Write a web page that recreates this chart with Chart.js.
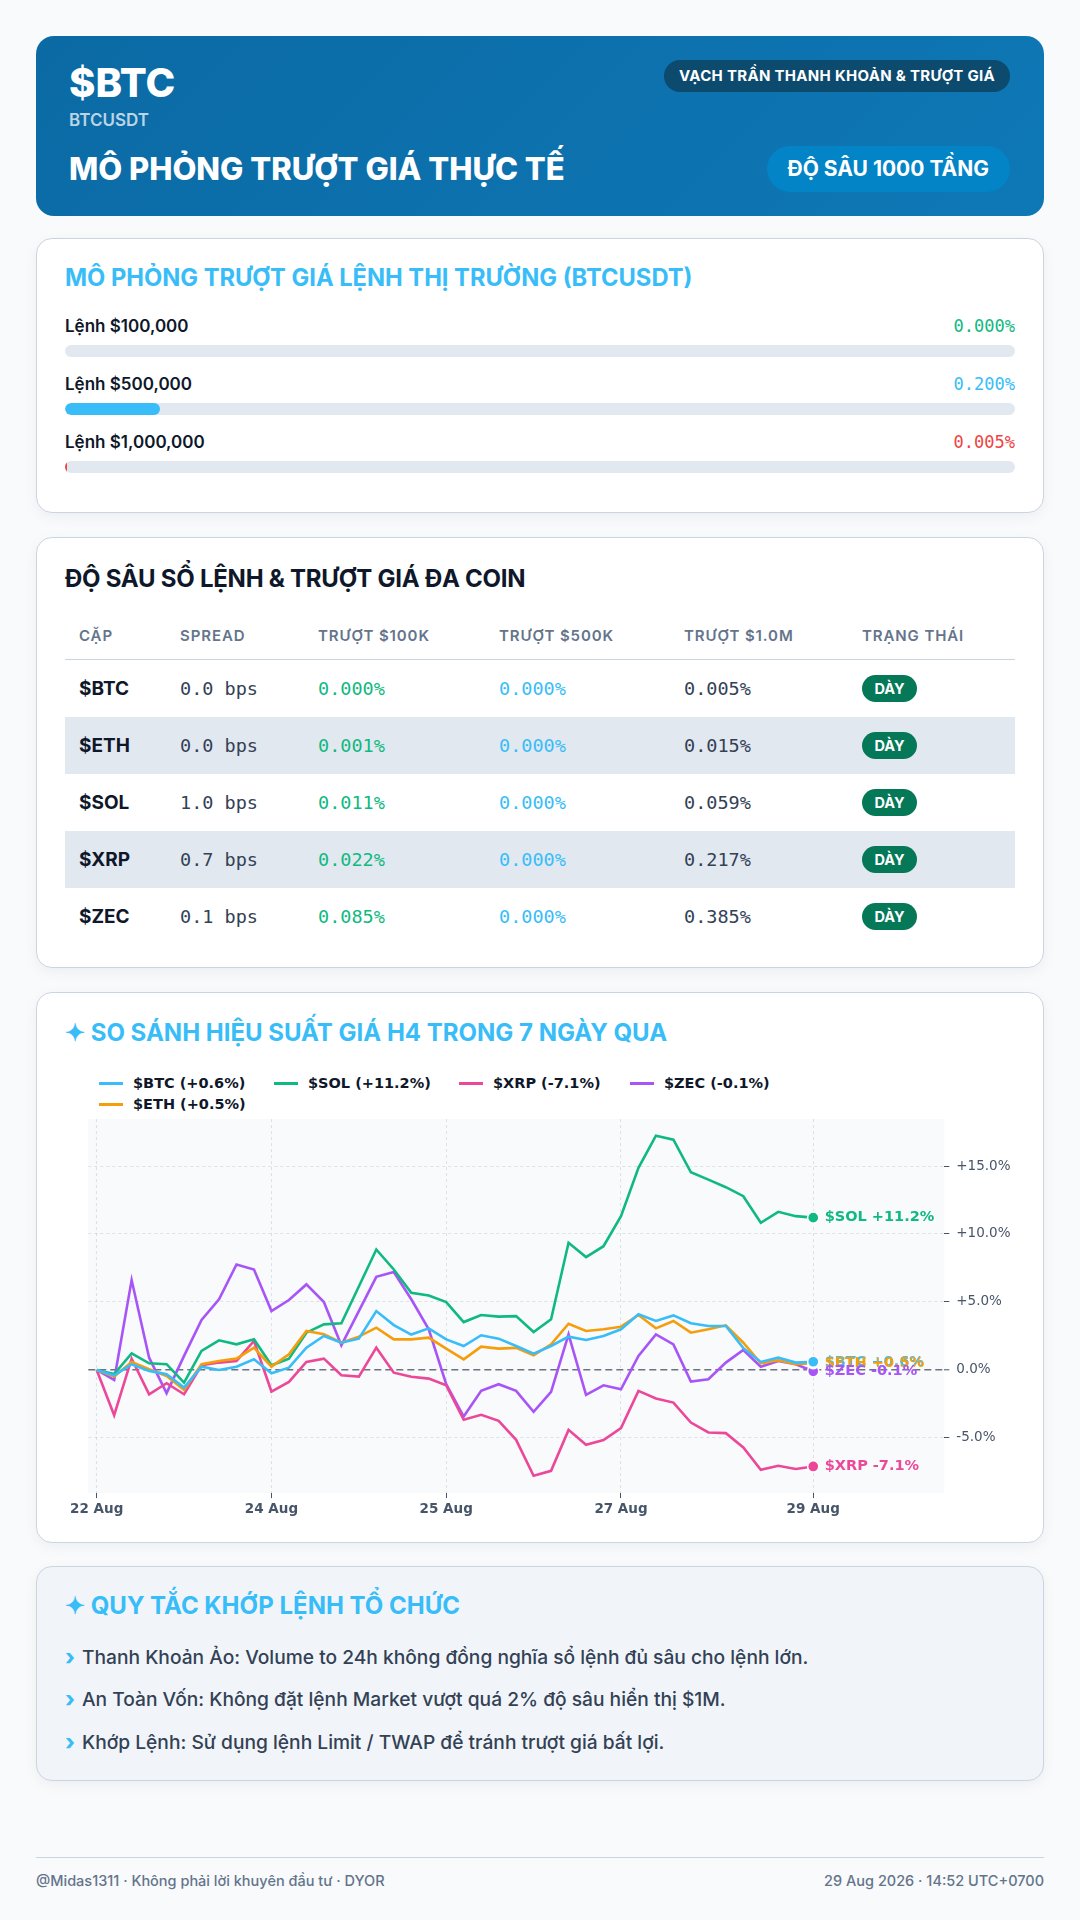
<!DOCTYPE html>
<html lang="vi">
<head>
<meta charset="utf-8">
<script src="https://cdn.jsdelivr.net/npm/chart.js@4.4.1/dist/chart.umd.min.js"></script>
<style>
  * { box-sizing: border-box; margin: 0; padding: 0; }
  html, body { width: 1080px; height: 1920px; overflow: hidden; background: #f8fafc; font-family: Inter, "Noto Sans", sans-serif; color: #0f172a; }
  .mono { font-family: "DejaVu Sans Mono", monospace; }

  .header { position: absolute; left: 36px; top: 36px; width: 1008px; height: 180px; border-radius: 18px;
            background: linear-gradient(135deg, #0b6aa4 0%, #0e78b6 100%); color: #fff; }
  .header .sym { position: absolute; left: 33px; top: 27px; font-size: 40px; line-height: 40px; font-weight: 800; }
  .header .pair { position: absolute; left: 33px; top: 76px; font-size: 17px; line-height: 17px; font-weight: 600; color: rgba(255,255,255,0.72); }
  .header .ttl { position: absolute; left: 33px; top: 117px; font-size: 31px; line-height: 31px; font-weight: 800; }
  .header .tag { position: absolute; right: 34px; top: 24px; height: 32px; line-height: 32px; padding: 0 15px; border-radius: 16px;
                 background: #0c4a6e; font-size: 15px; font-weight: 700; letter-spacing: 0.3px; }
  .header .depth { position: absolute; right: 34px; top: 110px; height: 46px; line-height: 46px; padding: 0 21px; border-radius: 23px;
                   background: #0284c7; font-size: 21px; font-weight: 700; }

  .card { position: absolute; left: 36px; width: 1008px; background: #fff; border: 1px solid #cbd5e1; border-radius: 16px;
          box-shadow: 0 4px 14px rgba(15,23,42,0.05); }
  .card h2 { font-size: 24px; line-height: 28.8px; font-weight: 700; color: #38bdf8; }

  #sim { top: 238px; height: 275px; padding: 25px 28px 0 28px; }
  #sim h2 { font-size: 23.7px; }
  #simRows { margin-top: 23px; }
  .simRow { margin-bottom: 17px; }
  .simHead { display: flex; justify-content: space-between; height: 20px; line-height: 20px; font-size: 17px; font-weight: 600; }
  .simHead .mono { font-size: 17px; font-weight: 400; }
  .track { margin-top: 9px; height: 12px; border-radius: 6px; background: #e2e8f0; overflow: hidden; }
  .fill { height: 12px; border-radius: 6px; }

  #book { top: 537px; height: 431px; padding: 25px 28px 0 28px; }
  #book h2 { font-size: 24px; line-height: 31.2px; color: #0f172a; letter-spacing: -0.25px; }
  table { margin-top: 18px; width: 950px; border-collapse: collapse; table-layout: fixed; }
  th { text-align: left; padding: 14px 14px; font-size: 15px; line-height: 19px; font-weight: 600; color: #64748b; letter-spacing: 0.9px;
       border-bottom: 1px solid #cbd5e1; white-space: nowrap; }
  td { height: 57px; padding: 0 14px; vertical-align: middle; white-space: nowrap; }
  tr.alt td { background: #e2e8f0; }
  td.coin { font-size: 19px; font-weight: 700; color: #0f172a; }
  td.mono { font-size: 18.5px; }
  .badge { display: inline-block; height: 27px; line-height: 27px; padding: 0 12.5px; border-radius: 14px; background: #047857;
           color: #fff; font-size: 14.5px; font-weight: 700; }

  #perf { top: 992px; height: 551px; }
  #perf h2 { position: absolute; left: 28px; top: 26px; font-size: 24px; }
  #legend { position: absolute; left: 62px; top: 80px; display: grid; grid-template-columns: 175px 185px 171px 200px;
            grid-template-rows: 21px 21px; font-family: "DejaVu Sans"; font-weight: bold; font-size: 14.5px; color: #0f172a; }
  .lg { display: flex; align-items: center; line-height: 21px; white-space: nowrap; }
  .lg i { display: inline-block; width: 24px; height: 3px; margin-right: 10px; }
  #perfChart { position: absolute; left: 0; top: 119px; }

  #rules { top: 1566px; height: 215px; background: #f1f5f9; padding: 25px 28px 0 28px; }
  #rules ul { list-style: none; margin-top: 14px; }
  #rules li { height: 42.5px; line-height: 42.5px; font-size: 19.2px; font-weight: 500; color: #334155; white-space: nowrap; }
  #rules li b { display: inline-block; width: 17px; color: #38bdf8; font-size: 22px; font-weight: 800; position: relative; top: 1px; }

  .foot { position: absolute; left: 36px; width: 1008px; top: 1857px; border-top: 1px solid #cbd5e1; }
  .foot div { position: absolute; top: 13px; font-size: 14.5px; line-height: 20px; font-weight: 500; color: #64748b; white-space: nowrap; }
</style>
</head>
<body>

<div class="header">
  <div class="sym">$BTC</div>
  <div class="pair">BTCUSDT</div>
  <div class="ttl">MÔ PHỎNG TRƯỢT GIÁ THỰC TẾ</div>
  <div class="tag">VẠCH TRẦN THANH KHOẢN &amp; TRƯỢT GIÁ</div>
  <div class="depth">ĐỘ SÂU 1000 TẦNG</div>
</div>

<div class="card" id="sim">
  <h2>MÔ PHỎNG TRƯỢT GIÁ LỆNH THỊ TRƯỜNG (BTCUSDT)</h2>
  <div id="simRows"></div>
</div>

<div class="card" id="book">
  <h2>ĐỘ SÂU SỔ LỆNH &amp; TRƯỢT GIÁ ĐA COIN</h2>
  <table>
    <colgroup><col style="width:101px"><col style="width:138px"><col style="width:181px"><col style="width:185px"><col style="width:178px"><col style="width:167px"></colgroup>
    <thead><tr><th>CẶP</th><th>SPREAD</th><th>TRƯỢT $100K</th><th>TRƯỢT $500K</th><th>TRƯỢT $1.0M</th><th>TRẠNG THÁI</th></tr></thead>
    <tbody id="bookRows"></tbody>
  </table>
</div>

<div class="card" id="perf">
  <h2>✦ SO SÁNH HIỆU SUẤT GIÁ H4 TRONG 7 NGÀY QUA</h2>
  <div id="legend"></div>
  <canvas id="perfChart" width="1006" height="425"></canvas>
</div>

<div class="card" id="rules">
  <h2>✦ QUY TẮC KHỚP LỆNH TỔ CHỨC</h2>
  <ul id="ruleList"></ul>
</div>

<div class="foot">
  <div style="left:0">@Midas1311 · Không phải lời khuyên đầu tư · DYOR</div>
  <div style="right:0">29 Aug 2026 · 14:52 UTC+0700</div>
</div>

<script>
// Mô phỏng trượt giá lệnh thị trường
const orderLabels = ['Lệnh $100,000', 'Lệnh $500,000', 'Lệnh $1,000,000'];
const orderSlip = [0.000, 0.200, 0.005];
const orderColors = ['#10b981', '#38bdf8', '#ef4444'];

// Bảng độ sâu đa coin
const bookCoins = ['$BTC', '$ETH', '$SOL', '$XRP', '$ZEC'];
const bookSpread = [0.0, 0.0, 1.0, 0.7, 0.1];
const slip100k = [0.000, 0.001, 0.011, 0.022, 0.085];
const slip500k = [0.000, 0.000, 0.000, 0.000, 0.000];
const slip1m = [0.005, 0.015, 0.059, 0.217, 0.385];
const bookStatus = ['DÀY', 'DÀY', 'DÀY', 'DÀY', 'DÀY'];

// Quy tắc
const rules = [
  'Thanh Khoản Ảo: Volume to 24h không đồng nghĩa sổ lệnh đủ sâu cho lệnh lớn.',
  'An Toàn Vốn: Không đặt lệnh Market vượt quá 2% độ sâu hiển thị $1M.',
  'Khớp Lệnh: Sử dụng lệnh Limit / TWAP để tránh trượt giá bất lợi.'
];

// Hiệu suất H4 7 ngày (% so với nến đầu)
const timeTicks = [0, 10, 20, 30, 41];
const timeTickLabels = ['22 Aug', '24 Aug', '25 Aug', '27 Aug', '29 Aug'];
const yTickValues = [-5, 0, 5, 10, 15];
const coins = ['$BTC', '$ETH', '$SOL', '$XRP', '$ZEC'];
const coinColors = ['#38bdf8', '#f59e0b', '#10b981', '#ec4899', '#a855f7'];
const btcPct = [0, -0.4, 0.42, -0.07, -0.32, -1.3, 0.24, 0, 0.24, 0.78, -0.24, 0.17, 1.64, 2.5, 2.0, 2.3, 4.33, 3.3, 2.6, 3.06, 2.25,
  1.76, 2.55, 2.3, 1.76, 1.2, 1.76, 2.45, 2.2, 2.5, 2.99, 4.09, 3.6, 4.01, 3.43, 3.23, 3.23, 1.6, 0.59, 0.9, 0.54, 0.6];
const ethPct = [0, -0.49, 0.59, 0.05, -0.44, -1.47, 0.42, 0.66, 0.83, 1.64, 0.24, 1.15, 2.86, 2.62, 2.0, 2.45, 3.11, 2.25, 2.25, 2.37, 1.57,
  0.78, 1.71, 1.57, 1.62, 1.08, 1.88, 3.4, 2.86, 2.99, 3.18, 4.04, 3.06, 3.6, 2.74, 2.99, 3.28, 2.0, 0.49, 0.71, 0.42, 0.5];
const solPct = [0, -0.3, 1.22, 0.49, 0.42, -0.93, 1.4, 2.18, 1.88, 2.25, 0.34, 0.83, 2.74, 3.35, 3.43, 6.14, 8.86, 7.39, 5.68, 5.48, 4.99,
  3.52, 4.04, 3.92, 3.96, 2.79, 3.72, 9.35, 8.3, 9.1, 11.31, 14.86, 17.23, 16.94, 14.54, 14.0, 13.44, 12.78, 10.82, 11.63, 11.31, 11.2];
const xrpPct = [0, -3.33, 0.83, -1.79, -0.98, -1.79, 0.34, 0.54, 0.66, 2.13, -1.59, -0.88, 0.59, 0.83, -0.39, -0.49, 1.64, -0.2, -0.5, -0.64, -1.13,
  -3.67, -3.3, -3.74, -5.14, -7.78, -7.42, -4.41, -5.51, -5.16, -4.28, -1.54, -2.1, -2.4, -3.87, -4.6, -4.65, -5.7, -7.34, -7.05, -7.29, -7.1];
const zecPct = [0, -0.73, 6.61, 0.9, -1.71, 1.03, 3.67, 5.19, 7.76, 7.39, 4.33, 5.14, 6.29, 4.99, 1.81, 4.33, 6.85, 7.2, 5.2, 2.99, -1.05,
  -3.43, -1.54, -1.05, -1.54, -3.08, -1.62, 2.62, -1.84, -1.13, -1.42, 1.03, 2.62, 1.88, -0.86, -0.69, 0.54, 1.47, 0.24, 0.66, 0.42, -0.1];
const seriesPct = [btcPct, ethPct, solPct, xrpPct, zecPct];
const legendSlots = [[1, 1], [2, 1], [1, 2], [1, 3], [1, 4]]; // [row, col]

const fmtPct = v => (v > 0 ? '+' : '') + v.toFixed(1) + '%';

// --- các khối HTML ---
document.getElementById('simRows').innerHTML = orderLabels.map((lb, i) =>
  '<div class="simRow"><div class="simHead"><span>' + lb + '</span><span class="mono" style="color:' + orderColors[i] + '">' +
  orderSlip[i].toFixed(3) + '%</span></div><div class="track"><div class="fill" style="width:' + (orderSlip[i] / 2 * 100) +
  '%;background:' + orderColors[i] + '"></div></div></div>').join('');

document.getElementById('bookRows').innerHTML = bookCoins.map((c, i) =>
  '<tr class="' + (i % 2 ? 'alt' : '') + '"><td class="coin">' + c + '</td>' +
  '<td class="mono" style="color:#334155">' + bookSpread[i].toFixed(1) + ' bps</td>' +
  '<td class="mono" style="color:#10b981">' + slip100k[i].toFixed(3) + '%</td>' +
  '<td class="mono" style="color:#38bdf8">' + slip500k[i].toFixed(3) + '%</td>' +
  '<td class="mono" style="color:#334155">' + slip1m[i].toFixed(3) + '%</td>' +
  '<td><span class="badge">' + bookStatus[i] + '</span></td></tr>').join('');

document.getElementById('ruleList').innerHTML = rules.map(r => '<li><b>›</b>' + r + '</li>').join('');

document.getElementById('legend').innerHTML = coins.map((c, i) => {
  const last = seriesPct[i][seriesPct[i].length - 1];
  return '<div class="lg" style="grid-row:' + legendSlots[i][0] + ';grid-column:' + legendSlots[i][1] + '"><i style="background:' +
    coinColors[i] + '"></i>' + c + ' (' + fmtPct(last) + ')</div>';
}).join('');

// --- biểu đồ ---
Chart.defaults.font.family = "'DejaVu Sans'";

const plotBackground = {
  id: 'plotBackground',
  beforeDraw(chart) {
    const { ctx, chartArea: a } = chart;
    ctx.save();
    ctx.fillStyle = '#f8fafc';
    ctx.fillRect(a.left, a.top, a.right - a.left, a.bottom - a.top);
    ctx.restore();
  }
};

// nhãn cuối mỗi đường
const endLabels = {
  id: 'endLabels',
  afterDatasetsDraw(chart) {
    const ctx = chart.ctx;
    ctx.save();
    ctx.font = 'bold 14.5px "DejaVu Sans"';
    ctx.textBaseline = 'middle';
    ctx.textAlign = 'left';
    chart.data.datasets.forEach((ds, i) => {
      const pts = chart.getDatasetMeta(i).data;
      const p = pts[pts.length - 1];
      const v = ds.data[ds.data.length - 1].y;
      ctx.fillStyle = ds.borderColor;
      ctx.fillText(ds.label + ' ' + fmtPct(v), p.x + 11.5, p.y);
    });
    ctx.restore();
  }
};

const lightGrid = 'rgba(148,163,184,0.28)';

new Chart(document.getElementById('perfChart'), {
  type: 'line',
  data: {
    datasets: coins.map((c, i) => ({
      label: c,
      data: seriesPct[i].map((v, k) => ({ x: k, y: v })),
      borderColor: coinColors[i],
      backgroundColor: coinColors[i],
      borderWidth: 2.6,
      tension: 0,
      fill: false,
      pointRadius: ctx => ctx.dataIndex === seriesPct[i].length - 1 ? 5.6 : 0,
      pointBorderColor: '#ffffff',
      pointBorderWidth: 1.5,
      pointBackgroundColor: coinColors[i]
    }))
  },
  options: {
    responsive: false,
    animation: false,
    layout: { padding: { left: 51.3, right: 0, top: 6.4, bottom: 13.9 } },
    plugins: { legend: { display: false }, tooltip: { enabled: false } },
    scales: {
      x: {
        type: 'linear',
        min: -0.48,
        max: 48.5,
        afterBuildTicks: s => { s.ticks = timeTicks.map(v => ({ value: v })); },
        afterFit: s => { s.height = 30; },
        grid: { color: lightGrid, lineWidth: 1, tickLength: 5, tickColor: '#475569', tickWidth: 1 },
        border: { display: false, dash: [3, 3] },
        ticks: {
          padding: 3, color: '#475569', font: { size: 13.5, weight: 'bold' }, maxRotation: 0, autoSkip: false,
          callback: v => timeTickLabels[timeTicks.indexOf(v)]
        }
      },
      y: {
        position: 'right',
        min: -9.06,
        max: 18.45,
        afterBuildTicks: s => { s.ticks = yTickValues.map(v => ({ value: v })); },
        afterFit: s => { s.width = 98.7; s.paddingTop = 0; s.paddingBottom = 0; },
        grid: {
          color: ctx => ctx.tick && ctx.tick.value === 0 ? '#6b7280' : lightGrid,
          lineWidth: ctx => ctx.tick && ctx.tick.value === 0 ? 1.6 : 1,
          tickLength: 5, tickColor: '#475569', tickWidth: 1
        },
        border: { display: false, dash: ctx => ctx.tick && ctx.tick.value === 0 ? [7, 4] : [3, 3] },
        ticks: { padding: 7, color: '#475569', font: { size: 13.5 }, callback: v => fmtPct(v) }
      }
    }
  },
  plugins: [plotBackground, endLabels]
});
</script>
</body>
</html>
